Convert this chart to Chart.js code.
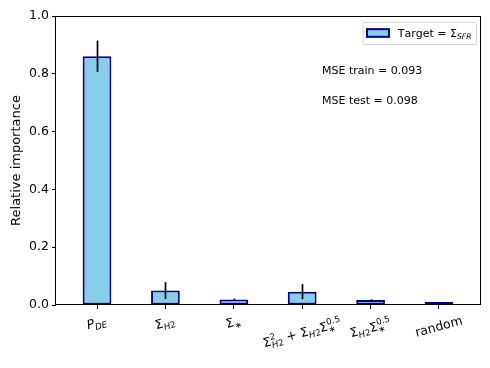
<!DOCTYPE html>
<html>
<head>
<meta charset="utf-8">
<script src="https://cdn.jsdelivr.net/npm/chart.js@4"></script>
<style>
  html, body { margin: 0; padding: 0; background: #fff; }
</style>
</head>
<body>
<canvas id="chart" width="490" height="368"></canvas>
<script>
// categories use a small $...$ math markup: _{sub}, ^{sup}
const categories = ['$P_{DE}$', '$Σ_{H2}$', '$Σ_{∗}$', '$Σ^{2}_{H2} + Σ_{H2}Σ^{0.5}_{∗}$', '$Σ_{H2}Σ^{0.5}_{∗}$', 'random'];
const importance = [0.861, 0.050, 0.019, 0.046, 0.017, 0.004];
const importanceErr = [0.054, 0.029, 0.003, 0.026, 0.003, 0.001];
const yTicks = [0, 0.2, 0.4, 0.6, 0.8, 1.0];
const legendLabel = 'Target = $Σ_{SFR}$';
const notes = ['MSE train = 0.093', 'MSE test = 0.098'];

const FONT = '"DejaVu Sans"';
const FS = 11;      // legend / notes
const TICK_FS = 12.5;

function parseMath(s) {
    const parts = [];
    let math = false;
    for (let i = 0; i < s.length; i++) {
        const c = s[i];
        if (c === '$') { math = !math; continue; }
        if (math && (c === '_' || c === '^')) {
            const end = s.indexOf('}', i);
            let last = parts[parts.length - 1];
            if (!last || !last.script) { last = { script: true }; parts.push(last); }
            last[c === '_' ? 'sub' : 'sup'] = s.slice(i + 2, end);
            i = end;
            continue;
        }
        parts.push({ t: c, math: math });
    }
    return parts;
}

function layoutRich(ctx, s, f) {
    const glyphs = [];
    let x = 0, top = -0.76 * f, bottom = 0.24 * f;
    const place = (str, math, size, dy, x0) => {
        let w = 0;
        for (const c of str) {
            const font = (math && /[A-Za-z]/.test(c) ? 'italic ' : '') + size + 'px ' + FONT;
            ctx.font = font;
            glyphs.push({ c: c, font: font, x: x0 + w, y: dy });
            w += ctx.measureText(c).width;
        }
        return w;
    };
    for (const p of parseMath(s)) {
        if (p.script) {
            const fs = 0.7 * f;
            let w = 0;
            if (p.sup) {
                w = Math.max(w, place(p.sup, true, fs, -0.42 * f, x));
                top = Math.min(top, -0.42 * f - 0.76 * fs);
            }
            if (p.sub) {
                w = Math.max(w, place(p.sub, true, fs, 0.22 * f, x));
                bottom = Math.max(bottom, 0.22 * f + 0.24 * fs);
            }
            x += w;
        } else {
            x += place(p.t, p.math, f, 0, x);
        }
    }
    return { glyphs: glyphs, width: x, top: top, bottom: bottom };
}

function drawRich(ctx, lay, ox, oy) {
    ctx.textAlign = 'left';
    ctx.textBaseline = 'alphabetic';
    for (const g of lay.glyphs) {
        ctx.font = g.font;
        ctx.fillText(g.c, ox + g.x, oy + g.y);
    }
}

const decorations = {
    id: 'decorations',
    afterDatasetsDraw(chart) {
        const { ctx, chartArea: a, scales: { x, y } } = chart;
        ctx.save();

        // error bars
        ctx.strokeStyle = '#000';
        ctx.lineWidth = 1.7;
        importance.forEach((v, i) => {
            const px = Math.round(x.getPixelForValue(i)) + 0.5;
            ctx.beginPath();
            ctx.moveTo(px, y.getPixelForValue(v - importanceErr[i]));
            ctx.lineTo(px, y.getPixelForValue(v + importanceErr[i]));
            ctx.stroke();
        });

        // frame
        ctx.lineWidth = 1;
        ctx.strokeStyle = '#000';
        ctx.strokeRect(Math.round(a.left) - 0.5, Math.round(a.top) + 0.5,
            Math.round(a.right - a.left) + 1, Math.round(a.bottom - a.top) - 1);

        // rotated category labels
        ctx.fillStyle = '#000';
        const ang = 15 * Math.PI / 180;
        const cs = Math.cos(ang), sn = Math.sin(ang);
        categories.forEach((lab, i) => {
            const lay = layoutRich(ctx, lab, TICK_FS);
            let minX = Infinity, maxX = -Infinity, minY = Infinity;
            [0, lay.width].forEach(cx => [lay.top, lay.bottom].forEach(cy => {
                const rx = cx * cs + cy * sn, ry = -cx * sn + cy * cs;
                minX = Math.min(minX, rx); maxX = Math.max(maxX, rx); minY = Math.min(minY, ry);
            }));
            const tx = x.getPixelForValue(i), ty = a.bottom + 10;
            ctx.save();
            ctx.translate(tx - (minX + maxX) / 2, ty - minY);
            ctx.rotate(-ang);
            drawRich(ctx, lay, 0, 0);
            ctx.restore();
        });

        // MSE notes
        ctx.font = FS + 'px ' + FONT;
        ctx.textAlign = 'left';
        ctx.textBaseline = 'alphabetic';
        notes.forEach((t, i) => ctx.fillText(t, a.left + 266, a.top + 58 + i * 30));

        // legend
        const lay = layoutRich(ctx, legendLabel, FS);
        const pad = 0.4 * FS, handleW = 2 * FS, handleH = 0.7 * FS, gap = 0.8 * FS;
        const bw = pad + handleW + gap + lay.width + pad, bh = 22;
        const bx = a.right - 4 - bw, by = a.top + 6;
        ctx.beginPath();
        ctx.roundRect(bx + 0.5, by + 0.5, bw, bh, 2);
        ctx.fillStyle = 'rgba(255,255,255,0.8)';
        ctx.fill();
        ctx.strokeStyle = 'rgba(204,204,204,0.8)';
        ctx.lineWidth = 1;
        ctx.stroke();
        const midY = by + bh / 2;
        ctx.fillStyle = '#87ceeb';
        ctx.fillRect(bx + pad, midY - handleH / 2, handleW, handleH);
        ctx.strokeStyle = '#00008b';
        ctx.lineWidth = 2;
        ctx.strokeRect(bx + pad, midY - handleH / 2, handleW, handleH);
        ctx.fillStyle = '#000';
        drawRich(ctx, lay, bx + pad + handleW + gap, midY + 0.36 * FS);

        ctx.restore();
    }
};

Chart.defaults.font.family = 'DejaVu Sans';
Chart.defaults.font.size = TICK_FS;
Chart.defaults.color = '#000';

new Chart(document.getElementById('chart'), {
    type: 'bar',
    data: {
        datasets: [{
            label: 'Target',
            data: importance.map((v, i) => ({ x: i, y: v })),
            backgroundColor: '#87ceeb',
            borderColor: '#00008b',
            borderWidth: 2,
            borderSkipped: false,
            minBarLength: 3,
            categoryPercentage: 1,
            barPercentage: 0.42
        }]
    },
    options: {
        responsive: false,
        animation: false,
        devicePixelRatio: 1,
        layout: { padding: { top: 16, right: 10, left: 0, bottom: 0 } },
        plugins: { legend: { display: false }, tooltip: { enabled: false } },
        scales: {
            x: {
                type: 'linear',
                offset: false,
                min: -0.6,
                max: 5.6,
                afterBuildTicks: s => { s.ticks = categories.map((_, i) => ({ value: i })); },
                afterFit: s => { s.height = 63; },
                ticks: { display: false },
                grid: { offset: false, drawOnChartArea: false, drawTicks: true, tickLength: 4, color: '#000', tickWidth: 1 },
                border: { display: false }
            },
            y: {
                min: 0,
                max: 1,
                afterBuildTicks: s => { s.ticks = yTicks.map(v => ({ value: v })); },
                afterFit: s => { s.width = 56; },
                ticks: { callback: v => v.toFixed(1), padding: 3, color: '#000' },
                grid: { drawOnChartArea: false, drawTicks: true, tickLength: 4, color: '#000', tickWidth: 1 },
                border: { display: false },
                title: { display: true, text: 'Relative importance', color: '#000', font: { size: 13 }, padding: { top: 9, bottom: 0 } }
            }
        }
    },
    plugins: [decorations]
});
</script>
</body>
</html>
